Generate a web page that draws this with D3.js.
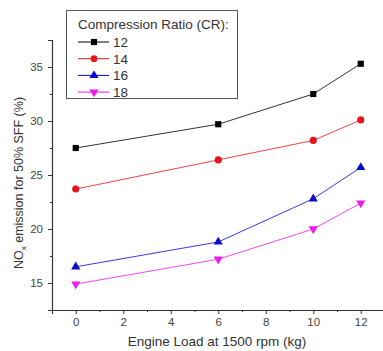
<!DOCTYPE html>
<html>
<head>
<meta charset="utf-8">
<script src="https://cdn.jsdelivr.net/npm/d3@7/dist/d3.min.js"></script>
<style>
  html, body { margin: 0; padding: 0; background: #fff; }
  svg { display: block; font-family: "Liberation Sans", Arial, sans-serif; }
</style>
</head>
<body>
<svg id="chart" width="383" height="351"></svg>
<script>
// Data
const loads = [0, 6, 10, 12];
const seriesNames = ["12", "14", "16", "18"];
const cr12 = [27.5, 29.7, 32.5, 35.3];
const cr14 = [23.7, 26.4, 28.2, 30.1];
const cr16 = [16.5, 18.8, 22.8, 25.7];
const cr18 = [14.9, 17.2, 20.0, 22.4];
const xTicks = [0, 2, 4, 6, 8, 10, 12];
const xMinorTicks = [-1, 1, 3, 5, 7, 9, 11, 13];
const yTicks = [15, 20, 25, 30, 35];
const yMinorTicks = [12.5, 17.5, 22.5, 27.5, 32.5, 37.5];
const legendTitle = "Compression Ratio (CR):";
const xLabel = "Engine Load at 1500 rpm (kg)";

const colors = ["#000000", "#e8141c", "#0a0acc", "#ee1aee"];
const symbols = [d3.symbolSquare, d3.symbolCircle, d3.symbolTriangle, "down"];
const allSeries = [cr12, cr14, cr16, cr18];

const svg = d3.select("#chart");
const x = d3.scaleLinear().domain([-1, 13]).range([52, 384.5]);
const y = d3.scaleLinear().domain([12.5, 37.5]).range([310, 40]);

// Axes
svg.append("g").attr("transform", "translate(0,310)")
  .call(d3.axisBottom(x).tickValues(xTicks).tickSize(4).tickPadding(4).tickFormat(d3.format("d")));
svg.append("g").attr("transform", "translate(0,310)")
  .call(d3.axisBottom(x).tickValues(xMinorTicks).tickSize(2).tickFormat(""))
  .select(".domain").remove();
svg.append("g").attr("transform", "translate(52,0)")
  .call(d3.axisLeft(y).tickValues(yTicks).tickSize(4).tickPadding(5).tickFormat(d3.format("d")));
svg.append("g").attr("transform", "translate(52,0)")
  .call(d3.axisLeft(y).tickValues(yMinorTicks).tickSize(2).tickFormat(""))
  .select(".domain").remove();

svg.selectAll(".domain").attr("stroke", "#333").attr("stroke-width", 1.2);
svg.selectAll(".tick line").attr("stroke", "#333");
svg.selectAll(".tick text").attr("fill", "#444").style("font-size", "11.5px")
  .style("font-family", "'Liberation Sans', Arial, sans-serif");

// Lines and markers
const line = d3.line().x((d, i) => x(loads[i])).y(d => y(d));
function symPath(s, size) {
  if (s === "down") {
    return d3.symbol().type(d3.symbolTriangle).size(size)();
  }
  return d3.symbol().type(s).size(size)();
}
allSeries.forEach((vals, k) => {
  svg.append("path").datum(vals).attr("d", line)
    .attr("fill", "none").attr("stroke", colors[k]).attr("stroke-width", 1).attr("opacity", 0.8);
  const size = k === 0 ? 38 : (k === 1 ? 40 : 36);
  svg.selectAll(null).data(vals).enter().append("path")
    .attr("d", symPath(symbols[k], size))
    .attr("transform", (d, i) => `translate(${x(loads[i])},${y(d)})` + (symbols[k] === "down" ? " rotate(180)" : ""))
    .attr("fill", colors[k]);
});

// Legend
const lg = svg.append("g");
lg.append("rect").attr("x", 66.5).attr("y", 10.5).attr("width", 171).attr("height", 88)
  .attr("fill", "#fff").attr("stroke", "#555").attr("stroke-width", 1);
lg.append("text").attr("x", 78).attr("y", 29).text(legendTitle)
  .style("font-size", "13.5px").attr("fill", "#333");
seriesNames.forEach((name, k) => {
  const yy = 42 + k * 16.7;
  lg.append("line").attr("x1", 78).attr("x2", 109).attr("y1", yy).attr("y2", yy)
    .attr("stroke", colors[k]).attr("stroke-width", 1);
  lg.append("path").attr("d", symPath(symbols[k], k === 0 ? 38 : 36))
    .attr("transform", `translate(94,${yy})` + (symbols[k] === "down" ? " rotate(180)" : ""))
    .attr("fill", colors[k]);
  lg.append("text").attr("x", 113).attr("y", yy + 5).text(name)
    .style("font-size", "13.5px").attr("fill", "#333");
});

// Axis labels
svg.append("text").attr("x", 217).attr("y", 346).attr("text-anchor", "middle")
  .style("font-size", "13.5px").attr("fill", "#333").text(xLabel);

const yl = svg.append("text").attr("transform", "translate(23,183) rotate(-90)")
  .attr("text-anchor", "middle").style("font-size", "12.5px").attr("fill", "#333");
yl.append("tspan").text("NO");
yl.append("tspan").attr("dy", 3).style("font-size", "8px").text("x");
yl.append("tspan").attr("dy", -3).text(" emission for 50% SFF (%)");
</script>
</body>
</html>
